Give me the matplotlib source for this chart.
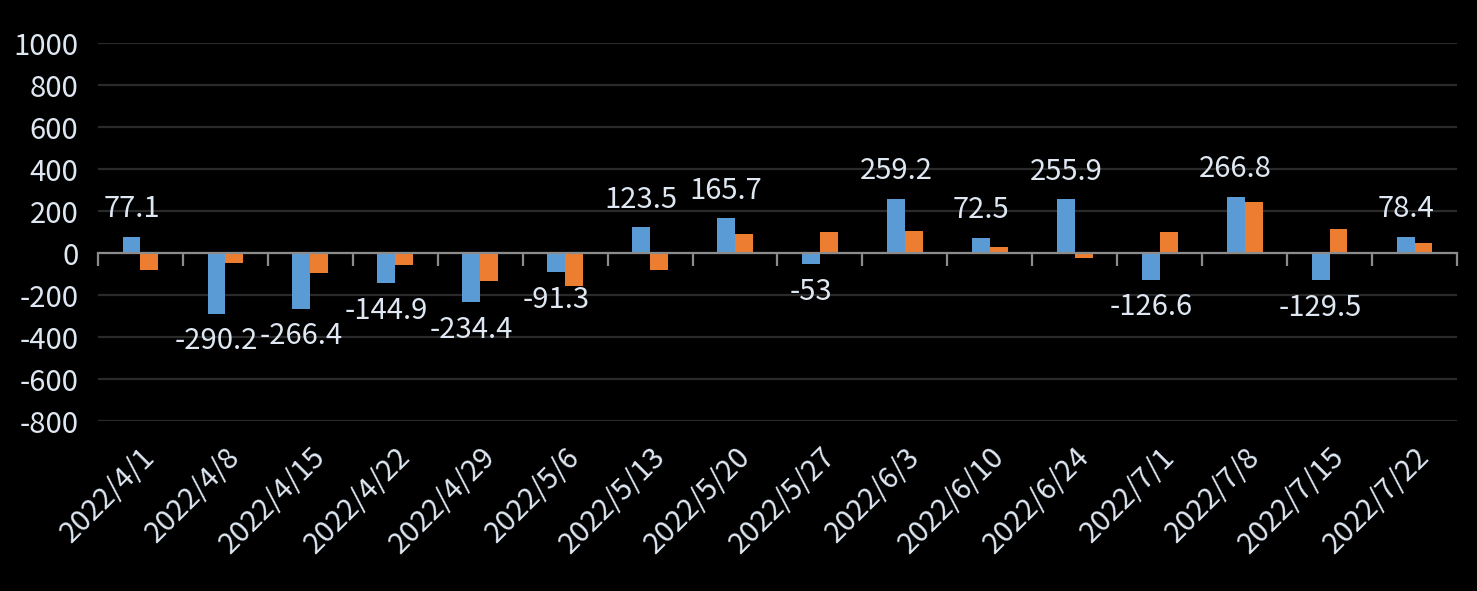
import numpy as np
import matplotlib
matplotlib.use("Agg")
import matplotlib.pyplot as plt

# data
dates = ["2022/4/1", "2022/4/8", "2022/4/15", "2022/4/22", "2022/4/29", "2022/5/6",
         "2022/5/13", "2022/5/20", "2022/5/27", "2022/6/3", "2022/6/10", "2022/6/24",
         "2022/7/1", "2022/7/8", "2022/7/15", "2022/7/22"]
blue_vals = [77.1, -290.2, -266.4, -144.9, -234.4, -91.3, 123.5, 165.7, -53, 259.2,
             72.5, 255.9, -126.6, 266.8, -129.5, 78.4]
orange_vals = [-81, -49, -95, -57, -133, -157, -81, 90, 100, 105, 29, -22, 100, 243, 114, 48]

plt.rcParams['font.family'] = ['Noto Sans CJK TC', 'DejaVu Sans']
plt.rcParams['axes.unicode_minus'] = False
txt_col = '#dfe8f2'
fs = 21

fig = plt.figure(figsize=(14.77, 5.91), dpi=100, facecolor='black')
ax = fig.add_axes([0.0663, 0.2876, 0.9202, 0.6396], facecolor='black')

x = np.arange(len(dates))
w = 0.21
ax.bar(x - w / 2, blue_vals, w, color='#5b9bd5', zorder=3)
ax.bar(x + w / 2, orange_vals, w, color='#ed7d31', zorder=3)

# data labels for the blue series
for xi, v in zip(x, blue_vals):
    if v >= 0:
        ax.annotate(f"{v:g}", (xi - w / 2, v), xytext=(0, 9), textcoords='offset points',
                    ha='center', va='bottom', fontsize=fs, color=txt_col)
    else:
        ax.annotate(f"{v:g}", (xi - w / 2, v), xytext=(0, -9), textcoords='offset points',
                    ha='center', va='top', fontsize=fs, color=txt_col)

ax.set_ylim(-800, 1000)
ax.set_xlim(-0.5, len(dates) - 0.5)
ax.set_yticks(np.arange(-800, 1001, 200))
ax.yaxis.grid(True, color='#2a2a2a', lw=1.6, zorder=0)
ax.tick_params(axis='y', length=0, labelsize=fs, labelcolor=txt_col, pad=14)

for s in ['left', 'right', 'top']:
    ax.spines[s].set_visible(False)
# category axis crosses at zero, with tick marks between categories
ax.spines['bottom'].set_position(('data', 0))
ax.spines['bottom'].set_color('#8c8c8c')
ax.spines['bottom'].set_linewidth(1.6)
ax.spines['bottom'].set_zorder(4)
ax.set_xticks(np.arange(-0.5, len(dates)), minor=True)
ax.set_xticks([])
ax.tick_params(axis='x', which='minor', direction='out', length=9, width=1.6, color='#8c8c8c')

sec = ax.secondary_xaxis('bottom')
sec.spines['bottom'].set_visible(False)
sec.set_xticks(x)
sec.set_xticklabels(dates, rotation=45, ha='right', rotation_mode='anchor')
sec.tick_params(length=0, labelsize=fs, labelcolor=txt_col, pad=15)

fig.savefig("out.png", dpi=100, facecolor='black')
